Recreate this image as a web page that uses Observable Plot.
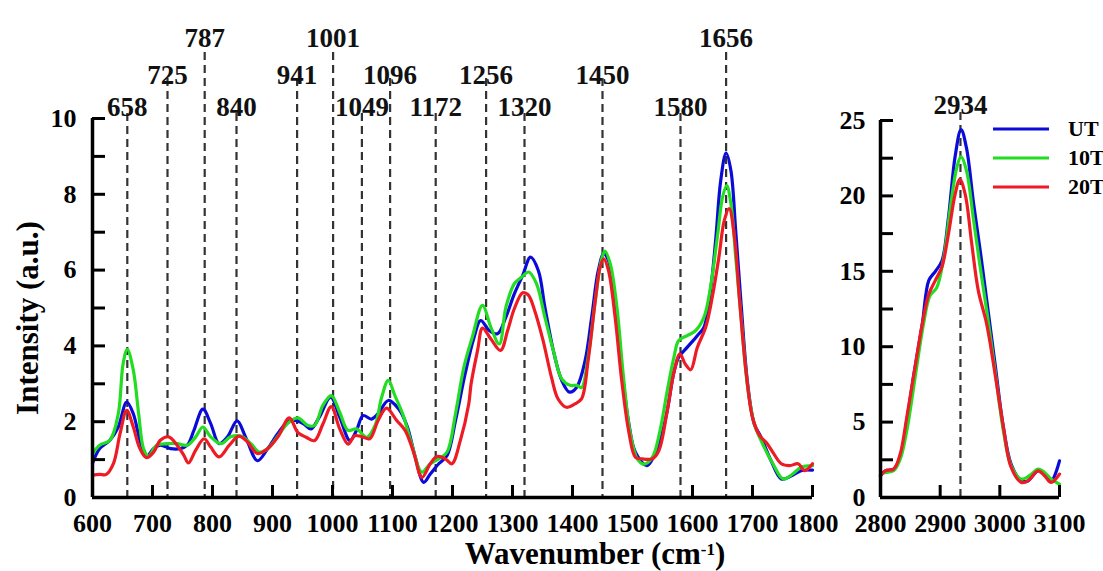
<!DOCTYPE html>
<html><head><meta charset="utf-8">
<script src="https://cdn.jsdelivr.net/npm/d3@7"></script>
<script src="https://cdn.jsdelivr.net/npm/@observablehq/plot@0.6"></script>
<style>
html,body{margin:0;padding:0;background:#fff;overflow:hidden;}
#wrap{position:relative;width:1103px;height:571px;font-family:"Liberation Serif","Times New Roman",serif;font-weight:bold;color:#000;background:#fff;}
#wrap svg, #wrap svg text{font-family:"Liberation Serif","Times New Roman",serif !important;font-weight:bold !important;}
#left{position:absolute;left:0;top:0;}
#right{position:absolute;left:830px;top:0;}
#xtitle{position:absolute;left:395px;width:400px;top:541px;text-align:center;font-size:31px;line-height:26px;white-space:nowrap;}
#xtitle sup{font-size:0.55em;line-height:0;vertical-align:0.5em;}
#legend{position:absolute;left:993px;top:114px;}
.lrow{display:flex;align-items:center;height:29px;}
.lrow span{margin-left:19px;font-size:22px;line-height:22px;white-space:nowrap;}
</style></head><body>
<div id="wrap"><div id="left"></div><div id="right"></div><div id="xtitle">Wavenumber (cm<sup>-1</sup>)</div><div id="legend"></div></div>
<script>
const seriesNames = ["UT", "10T", "20T"];
const seriesColors = ["#0b0bd9", "#22dd22", "#ee1b24"];

// Peak annotation labels (three stacked rows)
const peaksRow1 = [787, 1001, 1656];
const peaksRow2 = [725, 941, 1096, 1256, 1450];
const peaksRow3 = [658, 840, 1049, 1172, 1320, 1580];
const peaksRight = [2934];

const xTicksLeft = [600, 700, 800, 900, 1000, 1100, 1200, 1300, 1400, 1500, 1600, 1700, 1800];
const yTicksLeft = [0, 2, 4, 6, 8, 10];
const yMinorLeft = [0, 1, 2, 3, 4, 5, 6, 7, 8, 9, 10];
const xTicksRight = [2800, 2900, 3000, 3100];
const yTicksRight = [0, 5, 10, 15, 20, 25];
const yMinorRight = [0, 2.5, 5, 7.5, 10, 12.5, 15, 17.5, 20, 22.5, 25];

// UT, fingerprint region
const utLeftWn = [600,612,629,643,657,668,679,690,702,713,730,746,758,769,784,797,811,825,841,855,875,892,909,925,940,953,964,978,997,1012,1029,1040,1051,1065,1076,1093,1110,1124,1138,1152,1163,1177,1191,1205,1221,1236,1247,1261,1275,1289,1303,1317,1330,1343,1354,1368,1382,1395,1407,1421,1432,1443,1452,1460,1471,1482,1494,1505,1524,1535,1547,1558,1569,1577,1591,1608,1619,1630,1639,1647,1656,1664,1672,1681,1692,1703,1714,1731,1748,1765,1781,1800];
const utLeftI = [0.90,1.29,1.51,1.86,2.52,2.21,1.51,1.09,1.29,1.38,1.29,1.29,1.38,1.77,2.33,1.95,1.42,1.60,2.02,1.60,0.97,1.29,1.69,1.99,2.03,1.93,1.81,2.12,2.65,2.12,1.50,1.77,2.16,2.07,2.21,2.56,2.34,1.90,1.06,0.40,0.62,0.89,1.11,2.03,3.26,4.23,4.67,4.41,4.32,4.76,5.37,5.86,6.34,5.99,5.02,3.88,3.09,2.78,2.91,3.61,4.76,5.99,6.43,6.25,5.20,3.44,1.94,1.19,0.84,1.07,1.55,2.30,3.30,3.70,3.96,4.27,4.49,5.46,6.87,8.36,9.09,8.63,7.04,5.11,2.99,1.94,1.60,0.97,0.49,0.57,0.71,0.72];

// 10T, fingerprint region
const t10LeftWn = [600,612,629,643,651,658,668,677,685,693,707,724,741,758,772,784,797,814,830,847,864,878,892,909,925,942,959,970,984,998,1012,1026,1040,1057,1071,1082,1093,1104,1118,1132,1149,1163,1177,1191,1205,1219,1233,1250,1264,1278,1289,1303,1315,1327,1340,1354,1368,1382,1396,1407,1415,1426,1438,1448,1454,1463,1474,1485,1496,1508,1519,1533,1545,1558,1569,1577,1591,1605,1619,1630,1642,1650,1657,1664,1672,1681,1692,1703,1717,1734,1751,1767,1781,1800];
const t10LeftI = [1.16,1.38,1.51,2.21,3.53,3.91,3.36,2.20,1.29,1.09,1.38,1.42,1.42,1.38,1.60,1.86,1.60,1.42,1.60,1.62,1.42,1.20,1.29,1.62,1.95,2.10,1.90,1.90,2.43,2.69,2.25,1.77,1.81,1.59,1.90,2.65,3.09,2.69,2.16,1.41,0.67,0.89,1.02,1.20,2.21,3.44,4.23,5.07,4.49,4.05,5.02,5.64,5.81,5.95,5.64,4.76,3.88,3.13,2.96,2.96,2.90,3.70,5.20,6.25,6.50,6.16,5.02,3.17,1.72,1.02,0.88,1.06,1.70,2.82,3.70,4.14,4.27,4.40,4.75,5.55,6.95,7.92,8.23,7.75,6.34,4.75,2.90,1.94,1.41,0.89,0.49,0.62,0.80,0.84];

// 20T, fingerprint region
const t20LeftWn = [600,612,623,635,646,657,668,679,690,702,713,727,741,752,760,772,786,797,811,828,844,858,875,892,909,928,942,956,970,984,998,1012,1026,1037,1048,1062,1076,1090,1107,1121,1135,1149,1163,1174,1188,1199,1213,1227,1231,1242,1250,1264,1280,1292,1303,1317,1326,1337,1351,1365,1376,1390,1404,1415,1426,1438,1446,1452,1460,1471,1482,1494,1505,1516,1533,1544,1558,1569,1579,1588,1597,1608,1622,1633,1644,1653,1661,1670,1678,1689,1700,1712,1723,1734,1748,1762,1776,1787,1800];
const t20LeftI = [0.59,0.61,0.61,0.90,1.69,2.30,1.86,1.29,1.05,1.20,1.51,1.60,1.38,1.12,0.91,1.25,1.55,1.33,1.07,1.38,1.62,1.47,1.16,1.29,1.60,2.10,1.72,1.59,1.50,1.94,2.40,1.81,1.41,1.63,1.61,1.55,2.03,2.36,2.03,1.77,1.20,0.53,0.89,1.08,1.02,0.89,1.50,2.46,3.00,3.90,4.47,4.18,3.88,4.41,4.98,5.40,5.35,4.93,4.14,3.17,2.60,2.38,2.47,2.60,3.61,5.20,6.08,6.30,5.99,4.76,3.09,1.72,1.06,1.02,1.02,1.24,2.30,3.30,3.79,3.52,3.37,3.96,4.49,5.29,6.34,7.31,7.62,6.87,5.29,3.35,2.11,1.63,1.45,1.19,0.89,0.84,0.89,0.71,0.89];

// High-wavenumber region
const utRightWn = [2800,2808,2822,2833,2844,2856,2870,2881,2892,2903,2914,2925,2935,2944,2956,2967,2978,2992,3006,3019,3036,3047,3064,3075,3086,3100];
const utRightI = [1.44,1.77,1.88,2.65,5.09,8.19,11.5,14.4,15.0,15.7,18.6,22.6,24.4,23.2,19.5,16.4,13.1,8.85,4.65,2.2,1.1,1.1,1.77,1.55,1.1,2.43];
const t10RightWn = [2800,2808,2822,2833,2844,2858,2872,2883,2894,2906,2917,2928,2935,2944,2956,2967,2978,2992,3006,3019,3036,3053,3064,3075,3086,3100];
const t10RightI = [1.55,1.66,1.77,2.54,4.42,7.96,11.5,13.4,13.9,15.9,19.2,21.9,22.6,21.7,18.4,15.3,12.4,8.4,4.42,2.1,1.22,1.55,1.88,1.66,1.22,0.88];
const t20RightWn = [2800,2808,2822,2833,2844,2856,2870,2881,2892,2903,2914,2925,2933,2942,2953,2964,2978,2992,3006,3019,3036,3047,3064,3075,3086,3100];
const t20RightI = [1.44,1.77,1.88,2.88,5.31,8.19,11.5,13.5,14.4,15.3,17.5,20.1,21.1,20.1,16.8,13.7,11.5,8.19,4.65,1.99,1.0,1.1,1.77,1.44,1.0,1.55];

const rows = (name, wn, vals) => wn.map((w, i) => ({series: name, w, v: vals[i]}));
const leftData = [
  ...rows("UT", utLeftWn, utLeftI),
  ...rows("10T", t10LeftWn, t10LeftI),
  ...rows("20T", t20LeftWn, t20LeftI)
];
const rightData = [
  ...rows("UT", utRightWn, utRightI),
  ...rows("10T", t10RightWn, t10RightI),
  ...rows("20T", t20RightWn, t20RightI)
];

const SERIF = "Liberation Serif, Times New Roman, serif";
const FONT = {fontFamily: SERIF, fontWeight: "bold", color: "#000", background: "transparent", overflow: "visible"};
const dash = {stroke: "#333", strokeWidth: 2.2, strokeDasharray: "8 5"};

function peakMarks(list, labelDy, lineInset) {
  return [
    Plot.ruleX(list, {x: d => d, insetTop: lineInset, ...dash}),
    Plot.text(list, {x: d => d, text: d => String(d), frameAnchor: "top", dy: labelDy, fontSize: 27, fontWeight: "bold", fontFamily: SERIF, fill: "#111"})
  ];
}

function spectrumLines(data) {
  return seriesNames.map((s, i) => Plot.line(data.filter(d => d.series === s), {
    x: "w", y: "v", stroke: seriesColors[i], strokeWidth: 3.2, curve: "catmull-rom"
  }));
}

const axisText = {tickSize: 0, fontSize: 26, fontWeight: "bold", fontFamily: SERIF, label: null, tickFormat: d => String(d)};

// Left panel
const L = {W: 835, H: 571, ml: 92, mr: 23, mt: 118, mb: 74};
const lFrameW = L.W - L.ml - L.mr, lFrameH = L.H - L.mt - L.mb;
const left = Plot.plot({
  width: L.W, height: L.H,
  marginLeft: L.ml, marginRight: L.mr, marginTop: L.mt, marginBottom: L.mb,
  style: FONT,
  x: {domain: [600, 1800]},
  y: {domain: [0, 10]},
  marks: [
    ...peakMarks(peaksRow3, -22, -5),
    ...peakMarks(peaksRow2, -54, -40),
    ...peakMarks(peaksRow1, -91, -66),
    ...spectrumLines(leftData),
    Plot.ruleX([600], {strokeWidth: 3.5}),
    Plot.ruleY([0], {strokeWidth: 3.5}),
    Plot.tickX(xTicksLeft.slice(1), {x: d => d, insetTop: lFrameH - 12, strokeWidth: 3}),
    Plot.tickY(yMinorLeft, {y: d => d, insetRight: lFrameW - 13, strokeWidth: 3}),
    Plot.axisX({ticks: xTicksLeft, tickPadding: 16, ...axisText}),
    Plot.axisY({ticks: yTicksLeft, tickPadding: 16, ...axisText}),
    Plot.text(["Intensity (a.u.)"], {frameAnchor: "left", textAnchor: "middle", text: d => d, rotate: -90, dx: -64, dy: 10, fontSize: 31, fontWeight: "bold", fontFamily: SERIF})
  ]
});
document.getElementById("left").appendChild(left);

// Right panel
const R = {W: 273, H: 571, ml: 50, mr: 44, mt: 120, mb: 74};
const rFrameW = R.W - R.ml - R.mr, rFrameH = R.H - R.mt - R.mb;
const right = Plot.plot({
  width: R.W, height: R.H,
  marginLeft: R.ml, marginRight: R.mr, marginTop: R.mt, marginBottom: R.mb,
  style: FONT,
  x: {domain: [2800, 3100]},
  y: {domain: [0, 25]},
  marks: [
    ...peakMarks(peaksRight, -26, -8),
    ...spectrumLines(rightData),
    Plot.ruleX([2800], {strokeWidth: 3.5}),
    Plot.ruleY([0], {strokeWidth: 3.5}),
    Plot.tickX(xTicksRight.slice(1), {x: d => d, insetTop: rFrameH - 12, strokeWidth: 3}),
    Plot.tickY(yMinorRight, {y: d => d, insetRight: rFrameW - 13, strokeWidth: 3}),
    Plot.axisX({ticks: xTicksRight, tickPadding: 16, ...axisText}),
    Plot.axisY({ticks: yTicksRight, tickPadding: 15, ...axisText})
  ]
});
document.getElementById("right").appendChild(right);

// Legend
const legend = document.getElementById("legend");
seriesNames.forEach((s, i) => {
  const row = document.createElement("div");
  row.className = "lrow";
  row.innerHTML = `<svg width="56" height="4"><line x1="0" y1="2" x2="56" y2="2" stroke="${seriesColors[i]}" stroke-width="3"/></svg><span>${s}</span>`;
  legend.appendChild(row);
});
</script>
</body></html>
